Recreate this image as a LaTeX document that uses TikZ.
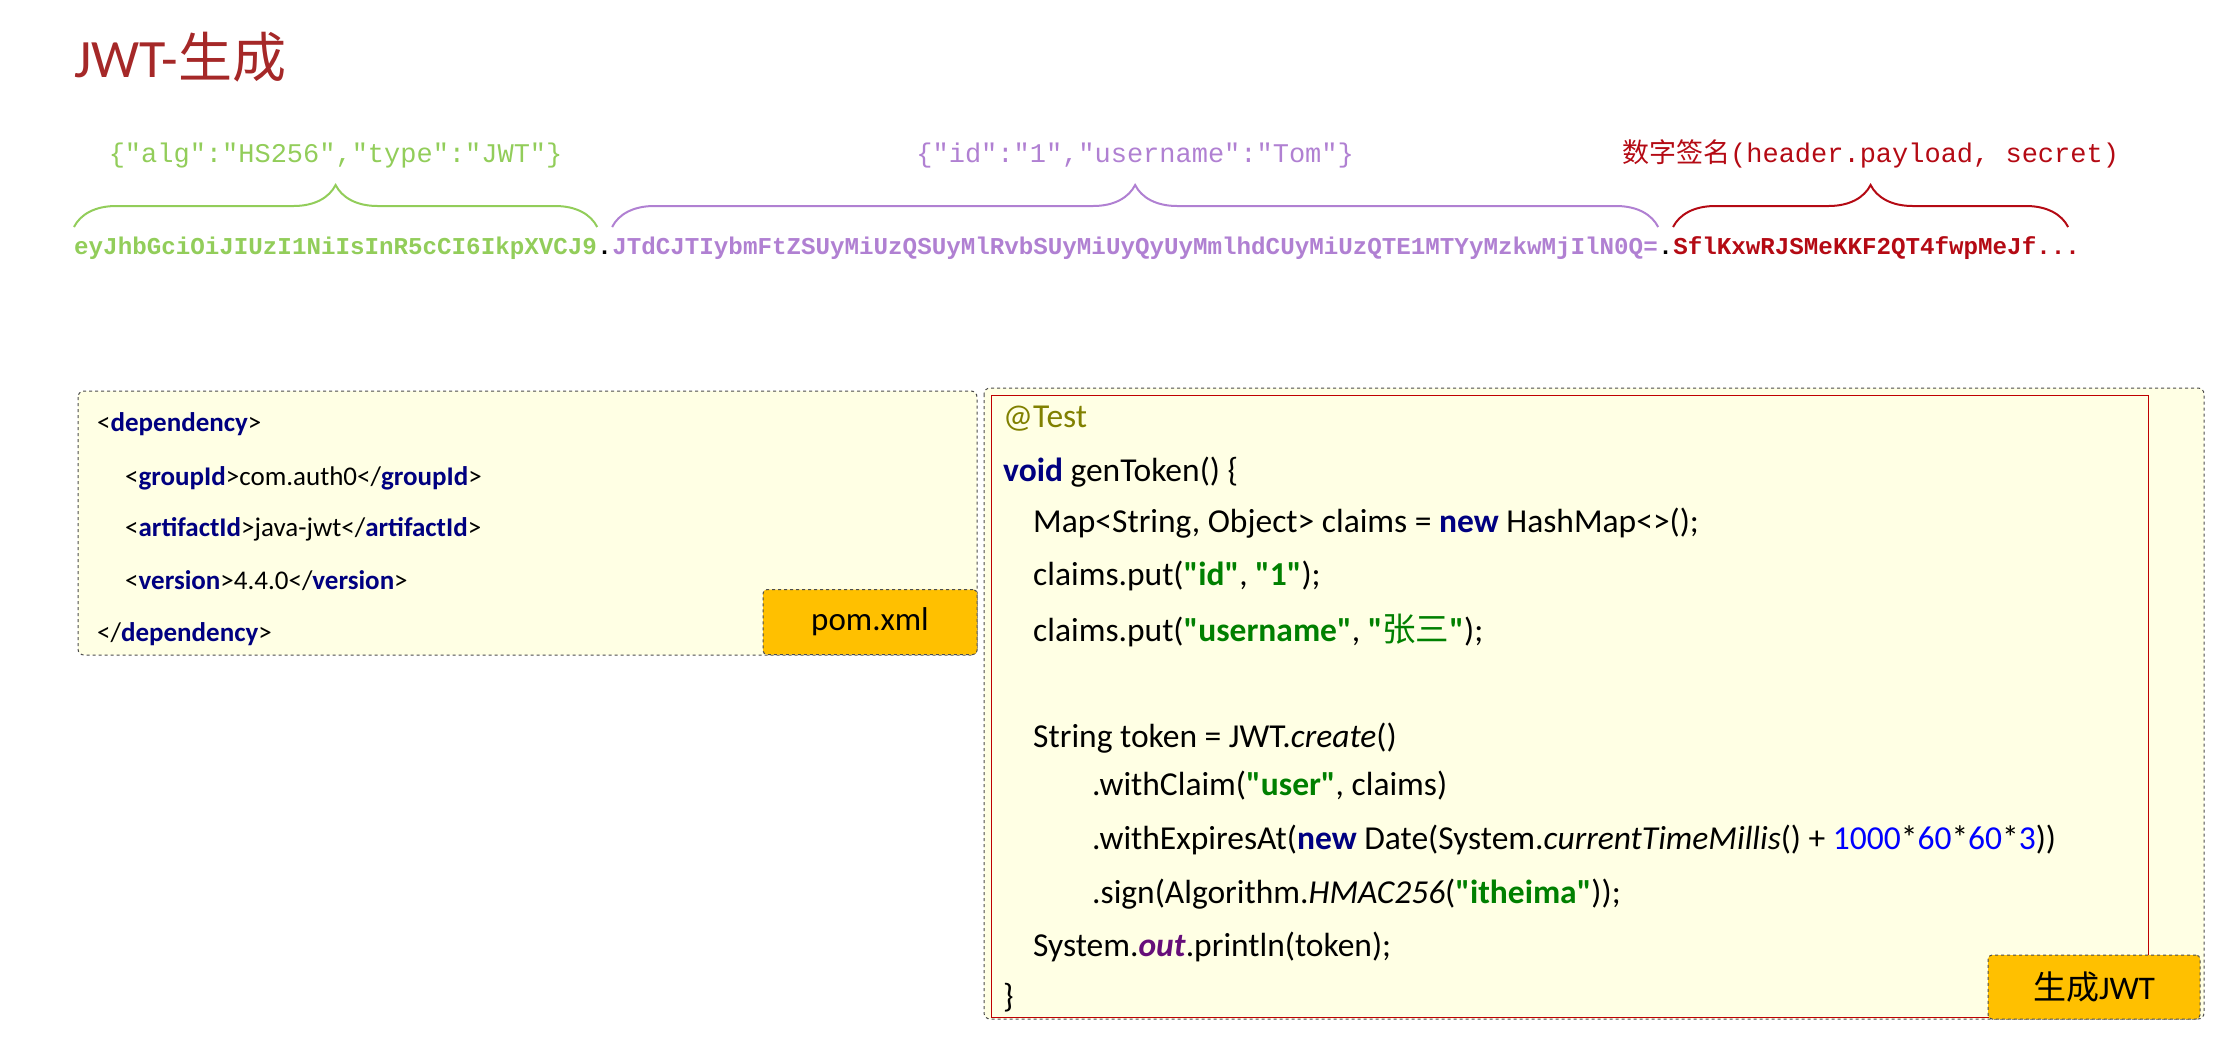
\documentclass[tikz,border=0pt]{standalone}
\usepackage{fontspec}
\setmainfont{Carlito}[Ligatures=TeXOff]
\setmonofont{Liberation Mono}
\newfontfamily\cjk{Noto Sans CJK SC}
\usetikzlibrary{decorations.pathreplacing,positioning}
\definecolor{tred}{RGB}{165,40,40}
\definecolor{jg}{RGB}{146,205,90}
\definecolor{jp}{RGB}{176,128,210}
\definecolor{jr}{RGB}{180,10,20}
\definecolor{kw}{RGB}{0,0,128}
\definecolor{st}{RGB}{0,128,0}
\definecolor{nm}{RGB}{0,0,255}
\definecolor{an}{RGB}{128,128,0}
\definecolor{pu}{RGB}{102,14,122}
\definecolor{boxy}{RGB}{255,255,228}
\definecolor{tag}{RGB}{255,192,0}
\newcommand{\kwd}[1]{\textcolor{kw}{\textbf{#1}}}
\newcommand{\strg}[1]{\textcolor{st}{\textbf{#1}}}
\newcommand{\numb}[1]{\textcolor{nm}{#1}}
\begin{document}
\begin{tikzpicture}[x=1pt,y=-1pt,
  tok/.style={anchor=base west,inner sep=0pt,font=\ttfamily\bfseries\fontsize{24.2}{26}\selectfont},
  lbl/.style={inner sep=0pt,font=\ttfamily\fontsize{27}{30}\selectfont},
  brc/.style={decorate,decoration={brace,amplitude=42pt,aspect=0.5},line width=2pt},
  box/.style={draw=black!70,dashed,fill=boxy,rounded corners=6pt,line width=1pt},
  tagbox/.style={draw=black!70,dashed,fill=tag,rounded corners=4pt,line width=1pt,font=\fontsize{33}{36}\selectfont,inner sep=0pt},
  pc/.style={anchor=west,inner sep=0pt,font=\fontsize{27}{30}\selectfont},
  cc/.style={anchor=west,inner sep=0pt,font=\fontsize{33.5}{36}\selectfont}]
\useasboundingbox (0,0) rectangle (2218,1053);
\node[anchor=west,inner sep=0pt,text=tred,font=\fontsize{54}{60}\selectfont] (title) at (74,57) {JWT-{\cjk 生成}};
% tokens
\node[tok,text=jg] (t1) at (74,254) {eyJhbGciOiJIUzI1NiIsInR5cCI6IkpXVCJ9};
\node[tok] (d1) at (t1.base east) {.};
\node[tok,text=jp] (t2) at (d1.base east) {JTdCJTIybmFtZSUyMiUzQSUyMlRvbSUyMiUyQyUyMmlhdCUyMiUzQTE1MTYyMzkwMjIlN0Q=};
\node[tok] (d2) at (t2.base east) {.};
\node[tok,text=jr] (t3) at (d2.base east) {SflKxwRJSMeKKF2QT4fwpMeJf...};
% braces
\coordinate (b1a) at (t1.west|-0,227);
\coordinate (b1b) at (t1.east|-0,227);
\coordinate (b2a) at (t2.west|-0,227);
\coordinate (b2b) at (t2.east|-0,227);
\coordinate (b3a) at (t3.west|-0,227);
\coordinate (b3b) at (t3.east|-0,227);
\draw[brc,jg] (b1a) -- (b1b) node[midway,above=58pt,lbl] (l1) {\{"alg":"HS256","type":"JWT"\}};
\draw[brc,jp] (b2a) -- (b2b) node[midway,above=58pt,lbl] (l2) {\{"id":"1","username":"Tom"\}};
\draw[brc,jr] (b3a) -- ([xshift=-12pt]b3b) node[midway,above=58pt,lbl] (l3) {{\rmfamily\cjk 数字签名}(header.payload, secret)};
% left box
\draw[box] (78,391) rectangle (977,655);
\node[pc] (p1) at (97,424) {<\kwd{dependency}>};
\node[pc] (p2) at (125,478) {<\kwd{groupId}>com.auth0</\kwd{groupId}>};
\node[pc] (p3) at (125,529) {<\kwd{artifactId}>java-jwt</\kwd{artifactId}>};
\node[pc] (p4) at (125,581) {<\kwd{version}>4.4.0</\kwd{version}>};
\node[pc] (p5) at (97,634) {</\kwd{dependency}>};
\node[tagbox,minimum width=214pt,minimum height=65pt] (pom) at (870,622) {pom.xml};
% right box
\draw[box] (984,388) rectangle (2204,1019);
\draw[draw=red!75!black,line width=1pt] (991,395) rectangle (2148,1017);
\node[cc,text=an] (c1) at (1003,419) {@Test};
\node[cc] (c2) at (1003,472) {\kwd{void} genToken() \{};
\node[cc] (c3) at (1033,523) {Map<String, Object> claims = \kwd{new} HashMap<>();};
\node[cc] (c4) at (1033,576) {claims.put(\strg{"id"}, \strg{"1"});};
\node[cc] (c5) at (1033,630) {claims.put(\strg{"username"}, \textcolor{st}{\textbf{"}{\cjk 张三}\textbf{"}});};
\node[cc] (c6) at (1033,738) {String token = JWT.\textit{create}()};
\node[cc] (c7) at (1092,786) {.withClaim(\strg{"user"}, claims)};
\node[cc] (c8) at (1092,840) {.withExpiresAt(\kwd{new} Date(System.\textit{currentTimeMillis}() + \numb{1000}*\numb{60}*\numb{60}*\numb{3}))};
\node[cc] (c9) at (1092,894) {.sign(Algorithm.\textit{HMAC256}(\strg{"itheima"}));};
\node[cc] (c10) at (1033,947) {System.\textcolor{pu}{\textbf{\textit{out}}}.println(token);};
\node[cc] (c11) at (1003,998) {\}};
\node[tagbox,minimum width=212pt,minimum height=64pt] (gen) at (2094,987) {{\cjk 生成}JWT};
\end{tikzpicture}
\end{document}
